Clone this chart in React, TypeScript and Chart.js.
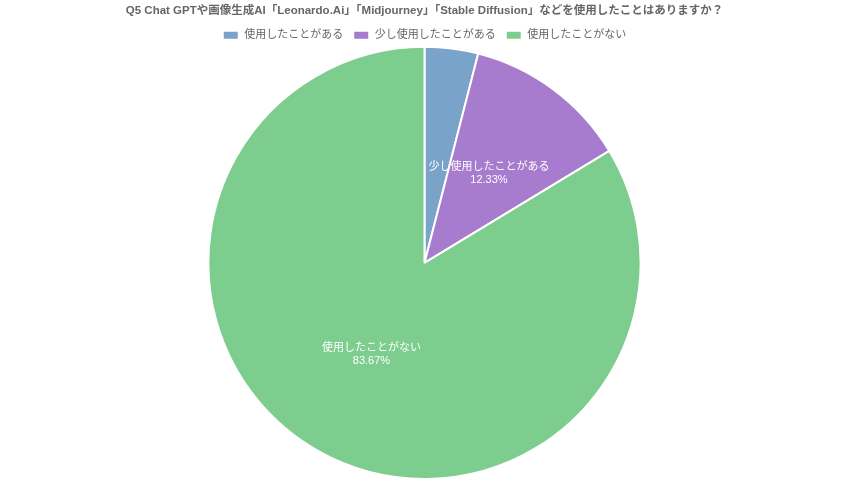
import { useEffect, useRef } from 'react';
import { Chart, registerables } from 'chart.js';

Chart.register(...registerables);

const labels = ['使用したことがある', '少し使用したことがある', '使用したことがない'];
const values = [4.0, 12.33, 83.67];
const colors = ['#79a3c9', '#a77bcd', '#7dcd8f'];
const titleText = 'Q5 Chat GPTや画像生成AI「Leonardo.Ai」「Midjourney」「Stable Diffusion」などを使用したことはありますか？';

const FONT = "'Liberation Sans', Arial, 'Noto Sans CJK JP', sans-serif";

// draws the name + percentage inside the bigger slices
const sliceLabels = {
  id: 'sliceLabels',
  afterDatasetsDraw(chart: Chart) {
    const ctx = chart.ctx;
    const meta = chart.getDatasetMeta(0);
    const data = chart.data.datasets[0].data as number[];
    const total = data.reduce((a, b) => a + b, 0);
    ctx.save();
    ctx.fillStyle = '#fff';
    ctx.textAlign = 'center';
    ctx.textBaseline = 'middle';
    ctx.font = `11px ${FONT}`;
    meta.data.forEach((arc: any, i: number) => {
      const pct = (data[i] / total) * 100;
      if (pct < 5) return;
      const { x, y } = arc.tooltipPosition();
      ctx.fillText(String(chart.data.labels![i]), x, y - 9);
      ctx.fillText(pct.toFixed(2) + '%', x, y + 4);
    });
    ctx.restore();
  }
};

// legend keeps its wide horizontal padding but takes less room below
const tightLegend = {
  id: 'tightLegend',
  beforeInit(chart: any) {
    const legend = chart.legend;
    if (!legend) return;
    const fit = legend.fit;
    legend.fit = function () {
      fit.call(this);
      this.height -= 5;
    };
  }
};

export default function App() {
  const canvasRef = useRef<HTMLCanvasElement | null>(null);

  useEffect(() => {
    document.body.style.margin = '0';
    if (!canvasRef.current) return;
    const chart = new Chart(canvasRef.current, {
      type: 'pie',
      data: {
        labels,
        datasets: [
          {
            data: values,
            backgroundColor: colors,
            borderColor: '#fff',
            borderWidth: 2
          }
        ]
      },
      options: {
        responsive: true,
        maintainAspectRatio: false,
        animation: false,
        layout: { padding: 0 },
        plugins: {
          title: {
            display: true,
            text: titleText,
            color: '#666',
            font: { family: FONT, size: 11.5, weight: 'bold' },
            padding: { top: 4, bottom: 2 }
          },
          legend: {
            position: 'top',
            labels: {
              color: '#666',
              boxWidth: 16,
              boxHeight: 9,
              font: { family: FONT, size: 11 },
              padding: 10
            }
          },
          tooltip: { enabled: false }
        }
      },
      plugins: [sliceLabels, tightLegend]
    });
    return () => chart.destroy();
  }, []);

  return (
    <div style={{ width: 849, height: 480, position: 'relative' }}>
      <canvas ref={canvasRef} />
    </div>
  );
}
